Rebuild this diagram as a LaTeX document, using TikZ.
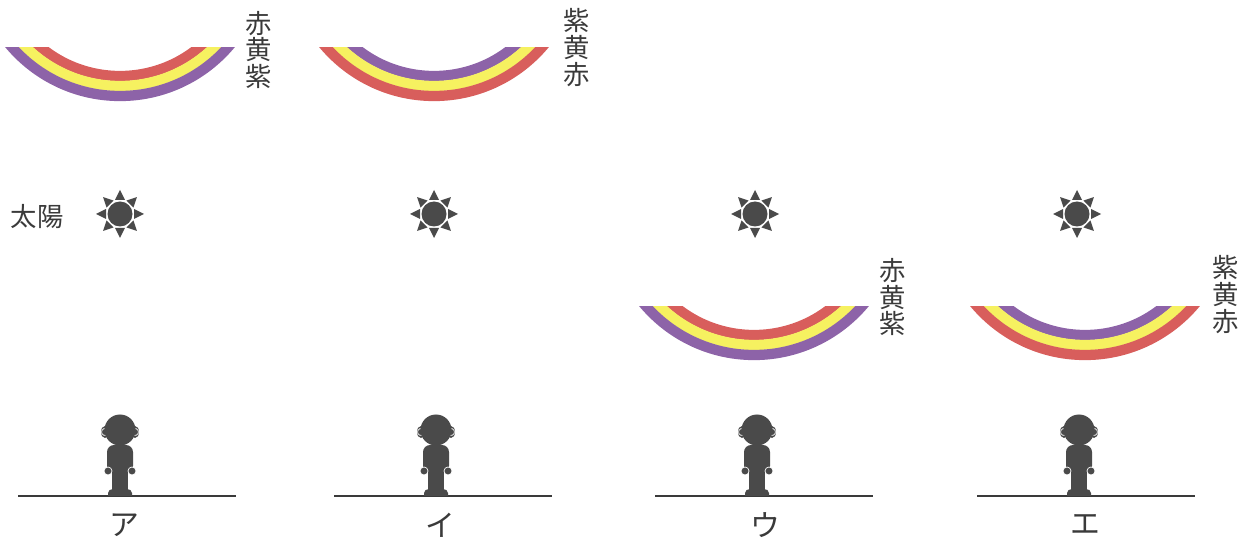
\documentclass[tikz,border=0pt]{standalone}
\usepackage{fontspec}
\newfontfamily\jp{Noto Sans CJK JP}
\usepackage{xcolor}

\definecolor{rouge}{RGB}{216,94,92}
\definecolor{jaune}{RGB}{246,241,96}
\definecolor{violet}{RGB}{141,99,168}
\definecolor{gris}{RGB}{74,74,74}
\definecolor{encre}{RGB}{58,58,58}

\begin{document}
\begin{tikzpicture}[x=0.02cm,y=0.02cm,
    bande/.style={line width=0.205cm},
    texte/.style={text=encre,inner sep=0pt,align=center,font=\jp\fontsize{15pt}{0.54cm}\selectfont},
    lettre/.style={text=encre,inner sep=0pt,font=\jp\fontsize{17pt}{18pt}\selectfont},
    sol/.style={line width=0.6pt,encre}]

    \useasboundingbox (0,0) rectangle (1252,538);

    % Arc-en-ciel A : rouge dedans, violet dehors
    \coordinate (O1) at (120,586);
    \begin{scope}
        \clip (0,490) rectangle (250,400);
        \draw[bande,rouge] (O1) circle (124);
        \draw[bande,jaune] (O1) circle (134);
        \draw[bande,violet] (O1) circle (144);
    \end{scope}
    \node[texte] (c1) at (259,488) {赤\\黄\\紫};

    % Arc-en-ciel B : violet dedans, rouge dehors
    \coordinate (O2) at (434,586);
    \begin{scope}
        \clip (314,490) rectangle (554,400);
        \draw[bande,violet] (O2) circle (124);
        \draw[bande,jaune] (O2) circle (134);
        \draw[bande,rouge] (O2) circle (144);
    \end{scope}
    \node[texte] (c2) at (577,490) {紫\\黄\\赤};

    % Arc-en-ciel C, plus bas
    \coordinate (O3) at (754,327);
    \begin{scope}
        \clip (634,231) rectangle (874,140);
        \draw[bande,rouge] (O3) circle (124);
        \draw[bande,jaune] (O3) circle (134);
        \draw[bande,violet] (O3) circle (144);
    \end{scope}
    \node[texte] (c3) at (893,241) {赤\\黄\\紫};

    % Arc-en-ciel D, plus bas
    \coordinate (O4) at (1085,327);
    \begin{scope}
        \clip (965,231) rectangle (1205,140);
        \draw[bande,violet] (O4) circle (124);
        \draw[bande,jaune] (O4) circle (134);
        \draw[bande,rouge] (O4) circle (144);
    \end{scope}
    \node[texte] (c4) at (1226,243) {紫\\黄\\赤};

    % Les soleils
    \node[texte] (soleil) at (37,321) {太陽};
    \foreach \sx in {120,434,755,1077} {
        \begin{scope}[shift={(\sx,324)}]
            \fill[gris] (0,0) circle (12.5);
            \foreach \a in {0,45,...,315}
                \fill[gris,rotate=\a] (14,-5) -- (24,0) -- (14,5) -- cycle;
        \end{scope}
    }

    % Les personnages et le sol
    \foreach \px in {120,436,757,1079} {
        \begin{scope}[shift={(\px,42)}]
            \draw[sol] (-102,0) -- (116,0);
            % oreilles
            \fill[gris] (-15,64) ellipse (4 and 6);
            \fill[gris] (15,64) ellipse (4 and 6);
            \draw[white,line width=0.4pt] (-15,64) ++(70:3.5) arc (70:290:3.5);
            \draw[white,line width=0.4pt] (15,64) ++(110:3.5) arc (110:-110:3.5);
            % tete et corps
            \fill[gris] (0,66) circle (15.5);
            \fill[gris,rounded corners=4] (-13,23) rectangle (13,51);
            \fill[gris] (-8,3) rectangle (8,25);
            \fill[gris] (-12,0) -- (-12,3) to[out=90,in=180] (-7,7) -- (7,7)
                to[out=0,in=90] (12,3) -- (12,0) -- cycle;
            % mains
            \filldraw[gris,draw=white,line width=0.4pt] (-12,25) circle (4);
            \filldraw[gris,draw=white,line width=0.4pt] (12,25) circle (4);
        \end{scope}
    }

    % Les lettres sous chaque cas
    \node[lettre] (la) at (124,13) {ア};
    \node[lettre] (li) at (440,13) {イ};
    \node[lettre] (lu) at (765,13) {ウ};
    \node[lettre] (le) at (1085,13) {エ};
\end{tikzpicture}
\end{document}
